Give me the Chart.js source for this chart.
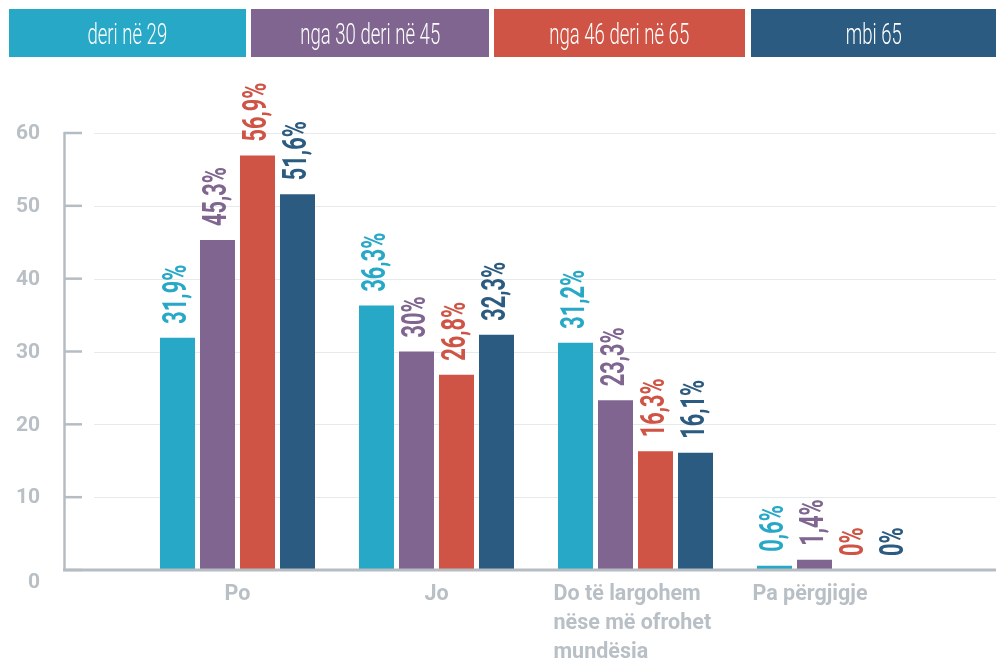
<!DOCTYPE html>
<html>
<head>
<meta charset="utf-8">
<script src="https://cdn.jsdelivr.net/npm/chart.js@4/dist/chart.umd.min.js"></script>
<style>
  html, body { margin: 0; padding: 0; background: #fff; }
  #wrap { position: relative; width: 996px; height: 660px; overflow: hidden; }
  #legend { position: absolute; top: 9px; left: 9px; height: 48px; display: flex; }
  #legend .item { height: 48px; display: flex; align-items: center; justify-content: center; color: #fff; }
  #legend .item span { display: inline-block; font-family: Roboto, sans-serif; font-weight: 300; font-size: 29px; transform: scaleX(0.64); white-space: nowrap; margin-top: 2px; }
  canvas { position: absolute; top: 0; left: 0; }
</style>
</head>
<body>
<div id="wrap">
  <canvas id="c" width="996" height="660"></canvas>
  <div id="legend"></div>
</div>
<script>
// ---- data ----
const categories = ["Po", "Jo", ["Do të largohem", "nëse më ofrohet", "mundësia"], "Pa përgjigje"];
const seriesNames = ["deri në 29", "nga 30 deri në 45", "nga 46 deri në 65", "mbi 65"];
const under29 = [31.9, 36.3, 31.2, 0.6];
const from30to45 = [45.3, 30, 23.3, 1.4];
const from46to65 = [56.9, 26.8, 16.3, 0];
const over65 = [51.6, 32.3, 16.1, 0];
const yTicks = [0, 10, 20, 30, 40, 50, 60];

// ---- styles ----
const colors = ["#27a8c7", "#7f658f", "#cf5445", "#2b5b80"];
const legendWidths = [237, 238, 251, 245];
const legendGaps = [5, 5, 6, 0];
const axisGray = "#b6bdc2";
const labelGray = "#b8bfc5";
const gridColor = "#e6eaed";

// legend (HTML, built from the series names)
const legendEl = document.getElementById("legend");
seriesNames.forEach((name, i) => {
  const d = document.createElement("div");
  d.className = "item";
  d.style.background = colors[i];
  d.style.width = legendWidths[i] + "px";
  d.style.marginRight = legendGaps[i] + "px";
  const s = document.createElement("span");
  s.textContent = name;
  d.appendChild(s);
  legendEl.appendChild(d);
});

const allSeries = [under29, from30to45, from46to65, over65];

function fmt(v) {
  return String(v).replace(".", ",") + "%";
}

const decor = {
  id: "decor",
  beforeDatasetsDraw(chart) {
    const ctx = chart.ctx;
    const y = chart.scales.y;
    ctx.save();
    // gridlines
    ctx.strokeStyle = gridColor;
    ctx.lineWidth = 1.2;
    yTicks.forEach(t => {
      if (t === 0) return;
      const py = Math.round(y.getPixelForValue(t)) + 0.5;
      ctx.beginPath();
      ctx.moveTo(94, py);
      ctx.lineTo(chart.width, py);
      ctx.stroke();
    });
    // axis line + tick marks
    ctx.strokeStyle = axisGray;
    ctx.lineWidth = 2.5;
    ctx.beginPath();
    ctx.moveTo(64.5, y.getPixelForValue(60) - 1);
    ctx.lineTo(64.5, y.getPixelForValue(0));
    ctx.stroke();
    yTicks.forEach(t => {
      const py = y.getPixelForValue(t);
      ctx.beginPath();
      ctx.moveTo(64, py);
      ctx.lineTo(82, py);
      ctx.stroke();
    });
    // y labels
    ctx.fillStyle = labelGray;
    ctx.font = "bold 21px Roboto, sans-serif";
    ctx.textAlign = "right";
    ctx.textBaseline = "middle";
    yTicks.forEach(t => {
      const py = y.getPixelForValue(t) + (t === 0 ? 13 : 1);
      ctx.fillText(String(t), 40, py);
    });
    // x labels
    const x = chart.scales.x;
    ctx.font = "bold 21.5px Roboto, sans-serif";
    ctx.textBaseline = "alphabetic";
    categories.forEach((lab, i) => {
      const cx = x.getPixelForValue(i);
      const lines = Array.isArray(lab) ? lab : [lab];
      const maxW = Math.max(...lines.map(l => ctx.measureText(l).width));
      lines.forEach((l, k) => {
        const by = 600 + k * 29;
        if (maxW > 100) {
          ctx.textAlign = "left";
          ctx.fillText(l, cx - 82, by);
        } else {
          ctx.textAlign = "center";
          ctx.fillText(l, cx, by);
        }
      });
    });
    ctx.restore();
  },
  afterDatasetsDraw(chart) {
    const ctx = chart.ctx;
    const y = chart.scales.y;
    ctx.save();
    // baseline
    ctx.strokeStyle = axisGray;
    ctx.lineWidth = 3;
    const by = y.getPixelForValue(0);
    ctx.beginPath();
    ctx.moveTo(63, by);
    ctx.lineTo(chart.width, by);
    ctx.stroke();
    // value labels
    ctx.font = "bold 34px Roboto, sans-serif";
    ctx.textAlign = "left";
    ctx.textBaseline = "alphabetic";
    chart.data.datasets.forEach((ds, di) => {
      const meta = chart.getDatasetMeta(di);
      ctx.fillStyle = colors[di];
      meta.data.forEach((bar, i) => {
        ctx.save();
        ctx.translate(bar.x, bar.y - 14);
        ctx.rotate(-Math.PI / 2);
        ctx.scale(0.64, 1);
        ctx.fillText(fmt(ds.data[i]), 0, 8.5);
        ctx.restore();
      });
    });
    ctx.restore();
  }
};

new Chart(document.getElementById("c"), {
  type: "bar",
  data: {
    labels: categories,
    datasets: allSeries.map((arr, i) => ({
      label: seriesNames[i],
      data: arr,
      backgroundColor: colors[i],
      borderWidth: 0,
      categoryPercentage: 0.804,
      barPercentage: 0.875
    }))
  },
  options: {
    responsive: false,
    animation: false,
    layout: { padding: { left: 138, right: 62, top: 133, bottom: 90 } },
    plugins: { legend: { display: false }, tooltip: { enabled: false } },
    scales: {
      x: { display: false, offset: true, grid: { display: false } },
      y: { display: false, min: 0, max: 60, ticks: { stepSize: 10 }, grid: { display: false } }
    }
  },
  plugins: [decor]
});
</script>
</body>
</html>
